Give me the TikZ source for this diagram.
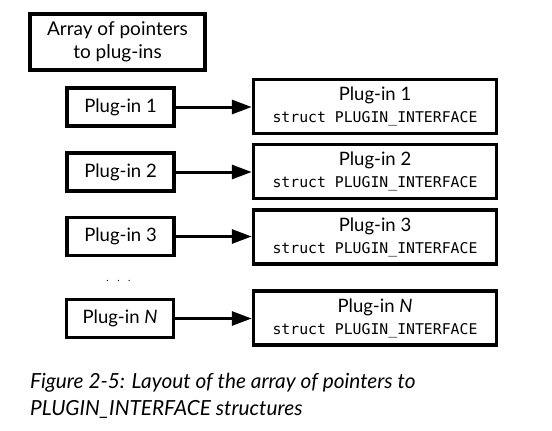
\documentclass[tikz,border=0pt]{standalone}
\usepackage{fontspec}
\setmainfont{Lato}
\setmonofont{DejaVu Sans Mono}
\usetikzlibrary{arrows.meta, positioning}

\tikzset{
  ptrbox/.style={draw, line width=3.5pt, minimum width=107pt, minimum height=38pt,
    inner sep=0pt, font=\fontsize{18.5}{20}\selectfont},
  ifacebox/.style={draw, line width=3.5pt, minimum width=243pt, minimum height=54pt,
    inner sep=0pt, align=center, font=\fontsize{18.5}{22}\selectfont},
  ptrarrow/.style={line width=3pt, -{Triangle[length=20pt, width=14pt]}}
}
\newcommand{\ifacename}{{\fontsize{14.8}{16}\selectfont\ttfamily struct PLUGIN\_INTERFACE}}

\begin{document}
\begin{tikzpicture}[x=1pt, y=-1pt]
\useasboundingbox (0,0) rectangle (552,431);

% Array
\node[draw, line width=3.5pt, minimum width=175pt, minimum height=56pt, inner sep=0pt,
  align=center, font=\fontsize{19}{23}\selectfont] (array) at (117.5,42)
  {Array of pointers\\to plug-ins};

% Pointers
\node[ptrbox] (p1) at (120.5,107) {Plug-in 1};
\node[ptrbox] (p2) at (120.5,172) {Plug-in 2};
\node[ptrbox] (p3) at (120.5,236.5) {Plug-in 3};
\node[ptrbox] (pn) at (120,318.5) {Plug-in \textit{N}};
\node[inner sep=0pt, anchor=base] (dots) at (118.5,281) {.\hspace{8.5pt}.\hspace{8.5pt}.};

% Interfaces
\node[ifacebox] (i1) at (375,106.5) {Plug-in 1\\\ifacename};
\node[ifacebox] (i2) at (375,171.5) {Plug-in 2\\\ifacename};
\node[ifacebox] (i3) at (375,237) {Plug-in 3\\\ifacename};
\node[ifacebox] (in) at (375,318) {Plug-in \textit{N}\\\ifacename};

% Arrows
\foreach \k in {1,2,3,n}
  \draw[ptrarrow] (p\k) -- (p\k -| i\k.west);

% Caption
\node[anchor=north west, align=left, inner sep=0pt,
  font=\fontsize{20.8}{27}\selectfont\itshape] (caption) at (30,373)
  {Figure 2-5: Layout of the array of pointers to\\PLUGIN\_INTERFACE structures};
\end{tikzpicture}
\end{document}
